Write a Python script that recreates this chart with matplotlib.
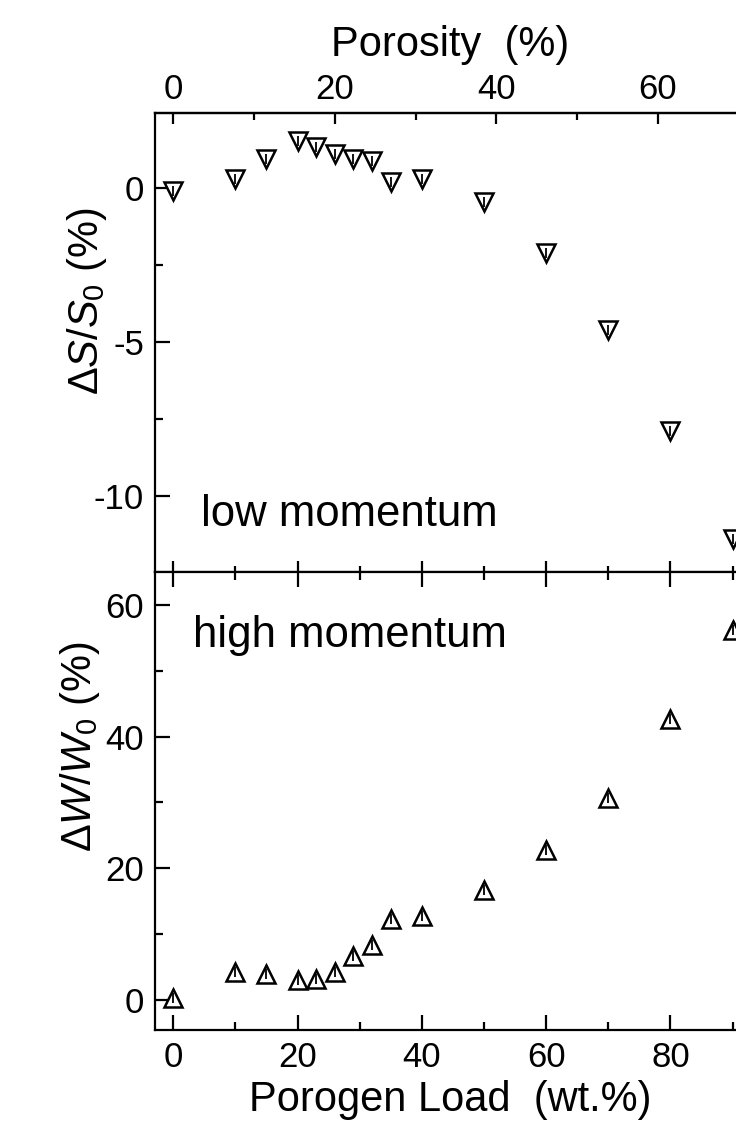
import matplotlib
matplotlib.use('Agg')
import matplotlib.pyplot as plt
from matplotlib.ticker import MultipleLocator, FixedLocator

plt.rcParams['font.family'] = ['Liberation Sans', 'DejaVu Sans']
plt.rcParams['mathtext.fontset'] = 'custom'
plt.rcParams['mathtext.rm'] = 'Liberation Sans'
plt.rcParams['mathtext.it'] = 'Liberation Sans:italic'
plt.rcParams['axes.unicode_minus'] = False

# porogen load (wt.%) of each film
porogen_load = [0, 10, 15, 20, 23, 26, 29, 32, 35, 40, 50, 60, 70, 80, 90]
# relative change of the S parameter (low momentum region), %
delta_s = [-0.1, 0.3, 0.95, 1.55, 1.35, 1.1, 0.95, 0.9, 0.2, 0.3,
           -0.45, -2.1, -4.6, -7.9, -11.4]
# relative change of the W parameter (high momentum region), %
delta_w = [0.3, 4.3, 4.0, 3.0, 3.2, 4.2, 6.7, 8.3, 12.3, 12.8,
           16.7, 22.8, 30.7, 42.6, 56.2]

# porosity scale on the top axis
load_per_porosity = 1.3
porosity_ticks = [0, 20, 40, 60]
porosity_minor = [10, 30, 50, 70]

TICK_FS = 25
LABEL_FS = 30
NOTE_FS = 31.5


def style_axis(ax):
    for s in ax.spines.values():
        s.set_linewidth(1.6)
    ax.tick_params(which='both', direction='in', width=1.6, labelsize=TICK_FS, pad=8)
    ax.tick_params(which='major', length=11)
    ax.tick_params(which='minor', length=6)
    ax.xaxis.set_major_locator(MultipleLocator(20))
    ax.xaxis.set_minor_locator(MultipleLocator(10))


def draw_points(ax, y, marker):
    ax.plot(porogen_load, y, linestyle='none', marker=marker, ms=12.5,
            mfc='white', mec='black', mew=1.8)
    ax.plot(porogen_load, y, linestyle='none', marker='|', ms=7,
            mec='black', mew=1.3)


def main():
    fig = plt.figure(figsize=(7.36, 11.25), dpi=100)
    ax_top = fig.add_axes([0.2106, 0.4916, 0.8016, 0.4083])
    ax_bot = fig.add_axes([0.2106, 0.0844, 0.8016, 0.4072], sharex=ax_top)

    # upper panel: S parameter
    draw_points(ax_top, delta_s, 'v')
    style_axis(ax_top)
    ax_top.set_xlim(-2.94, 92)
    ax_top.set_ylim(-12.48, 2.46)
    ax_top.yaxis.set_major_locator(MultipleLocator(5))
    ax_top.yaxis.set_minor_locator(MultipleLocator(2.5))
    ax_top.tick_params(axis='x', which='major', length=8, labelbottom=False)
    ax_top.tick_params(axis='x', which='minor', length=4)
    ax_top.tick_params(axis='y', right=False)
    ax_top.set_ylabel(r'$\mathit{ΔS/S_0}$ (%)', fontsize=LABEL_FS)
    ax_top.yaxis.set_label_coords(-0.078, 0.59)
    ax_top.text(4.4, -11.0, 'low momentum', fontsize=NOTE_FS,
                ha='left', va='baseline')

    top = ax_top.secondary_xaxis('top', functions=(lambda x: x / load_per_porosity,
                                                   lambda p: p * load_per_porosity))
    top.xaxis.set_major_locator(FixedLocator(porosity_ticks))
    top.xaxis.set_minor_locator(FixedLocator(porosity_minor))
    top.tick_params(which='both', direction='in', width=1.6, labelsize=TICK_FS, pad=5)
    top.tick_params(which='major', length=8)
    top.tick_params(which='minor', length=5)
    top.spines['top'].set_linewidth(1.6)
    top.set_xlabel('Porosity  (%)', fontsize=LABEL_FS, labelpad=12)

    # lower panel: W parameter
    draw_points(ax_bot, delta_w, '^')
    style_axis(ax_bot)
    ax_bot.set_ylim(-4.56, 65.0)
    ax_bot.yaxis.set_major_locator(MultipleLocator(20))
    ax_bot.yaxis.set_minor_locator(MultipleLocator(10))
    ax_bot.tick_params(axis='x', top=True, which='both')
    ax_bot.tick_params(axis='y', right=False)
    ax_bot.set_xlabel('Porogen Load  (wt.%)', fontsize=LABEL_FS, labelpad=4)
    ax_bot.set_ylabel(r'$\mathit{ΔW/W_0}$ (%)', fontsize=LABEL_FS)
    ax_bot.yaxis.set_label_coords(-0.09, 0.62)
    ax_bot.text(3.2, 53.6, 'high momentum', fontsize=NOTE_FS,
                ha='left', va='baseline')

    fig.savefig('out.png', dpi=100)


if __name__ == '__main__':
    main()
